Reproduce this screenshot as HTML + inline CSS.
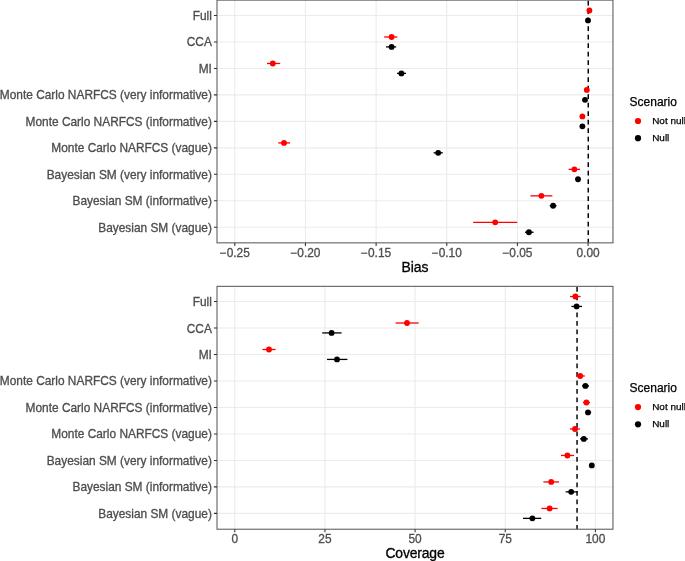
<!DOCTYPE html>
<html><head><meta charset="utf-8"><title>chart</title>
<style>html,body{margin:0;padding:0;background:#fff;}svg{display:block;will-change:transform}text{font-family:"Liberation Sans",sans-serif;}</style></head>
<body>
<svg width="685" height="561" viewBox="0 0 685 561">
<rect width="685" height="561" fill="#ffffff"/>
<path d="M217.0 15.47H612.95M217.0 41.95H612.95M217.0 68.42H612.95M217.0 94.90H612.95M217.0 121.37H612.95M217.0 147.84H612.95M217.0 174.32H612.95M217.0 200.80H612.95M217.0 227.27H612.95M234.79 0.12V242.85M305.45 0.12V242.85M376.11 0.12V242.85M446.77 0.12V242.85M517.43 0.12V242.85M588.09 0.12V242.85" stroke="#ebebeb" stroke-width="1.07" fill="none"/>
<path d="M588.27 0.12V242.85" stroke="#000" stroke-width="1.45" stroke-dasharray="4.8 3.7" stroke-dashoffset="-0.7" fill="none"/>
<circle cx="589.4" cy="10.52" r="2.92" fill="#ff0000"/>
<circle cx="588.0" cy="20.44" r="2.92" fill="#000000"/>
<path d="M384.2 36.99H397.4" stroke="#ff0000" stroke-width="1.3"/>
<circle cx="391.6" cy="36.99" r="2.92" fill="#ff0000"/>
<path d="M386.0 46.91H396.2" stroke="#000000" stroke-width="1.3"/>
<circle cx="391.6" cy="46.91" r="2.92" fill="#000000"/>
<path d="M267.0 63.47H280.2" stroke="#ff0000" stroke-width="1.3"/>
<circle cx="272.8" cy="63.47" r="2.92" fill="#ff0000"/>
<path d="M397.0 73.39H406.0" stroke="#000000" stroke-width="1.3"/>
<circle cx="401.4" cy="73.39" r="2.92" fill="#000000"/>
<circle cx="586.8" cy="89.95" r="2.92" fill="#ff0000"/>
<circle cx="585.0" cy="99.87" r="2.92" fill="#000000"/>
<circle cx="582.4" cy="116.42" r="2.92" fill="#ff0000"/>
<circle cx="582.4" cy="126.34" r="2.92" fill="#000000"/>
<path d="M278.2 142.9H290.0" stroke="#ff0000" stroke-width="1.3"/>
<circle cx="284.0" cy="142.9" r="2.92" fill="#ff0000"/>
<path d="M433.6 152.81H442.8" stroke="#000000" stroke-width="1.3"/>
<circle cx="438.2" cy="152.81" r="2.92" fill="#000000"/>
<path d="M568.6 169.37H580.0" stroke="#ff0000" stroke-width="1.3"/>
<circle cx="574.4" cy="169.37" r="2.92" fill="#ff0000"/>
<circle cx="578.0" cy="179.29" r="2.92" fill="#000000"/>
<path d="M530.4 195.85H552.4" stroke="#ff0000" stroke-width="1.3"/>
<circle cx="541.4" cy="195.85" r="2.92" fill="#ff0000"/>
<path d="M549.7 205.77H556.6" stroke="#000000" stroke-width="1.3"/>
<circle cx="553.1" cy="205.77" r="2.92" fill="#000000"/>
<path d="M473.2 222.32H517.2" stroke="#ff0000" stroke-width="1.3"/>
<circle cx="495.2" cy="222.32" r="2.92" fill="#ff0000"/>
<path d="M525.0 232.24H533.6" stroke="#000000" stroke-width="1.3"/>
<circle cx="528.95" cy="232.24" r="2.92" fill="#000000"/>
<rect x="217.0" y="0.12" width="395.95" height="242.73" fill="none" stroke="#5c5c5c" stroke-width="1.07"/>
<path d="M213.90 15.47H217.0M213.90 41.95H217.0M213.90 68.42H217.0M213.90 94.90H217.0M213.90 121.37H217.0M213.90 147.84H217.0M213.90 174.32H217.0M213.90 200.80H217.0M213.90 227.27H217.0M234.79 242.85V245.95M305.45 242.85V245.95M376.11 242.85V245.95M446.77 242.85V245.95M517.43 242.85V245.95M588.09 242.85V245.95" stroke="#333333" stroke-width="1.07" fill="none"/>
<text x="211.9" y="20.02" font-size="11.9" fill="#4d4d4d" stroke="#4d4d4d" stroke-width="0.3" text-anchor="end">Full</text>
<text x="211.9" y="46.49" font-size="11.9" fill="#4d4d4d" stroke="#4d4d4d" stroke-width="0.3" text-anchor="end">CCA</text>
<text x="211.9" y="72.97" font-size="11.9" fill="#4d4d4d" stroke="#4d4d4d" stroke-width="0.3" text-anchor="end">MI</text>
<text x="211.9" y="99.45" font-size="11.9" fill="#4d4d4d" stroke="#4d4d4d" stroke-width="0.3" text-anchor="end">Monte Carlo NARFCS (very informative)</text>
<text x="211.9" y="125.92" font-size="11.9" fill="#4d4d4d" stroke="#4d4d4d" stroke-width="0.3" text-anchor="end">Monte Carlo NARFCS (informative)</text>
<text x="211.9" y="152.40" font-size="11.9" fill="#4d4d4d" stroke="#4d4d4d" stroke-width="0.3" text-anchor="end">Monte Carlo NARFCS (vague)</text>
<text x="211.9" y="178.87" font-size="11.9" fill="#4d4d4d" stroke="#4d4d4d" stroke-width="0.3" text-anchor="end">Bayesian SM (very informative)</text>
<text x="211.9" y="205.35" font-size="11.9" fill="#4d4d4d" stroke="#4d4d4d" stroke-width="0.3" text-anchor="end">Bayesian SM (informative)</text>
<text x="211.9" y="231.82" font-size="11.9" fill="#4d4d4d" stroke="#4d4d4d" stroke-width="0.3" text-anchor="end">Bayesian SM (vague)</text>
<text x="234.79" y="256.7" font-size="11.9" fill="#4d4d4d" stroke="#4d4d4d" stroke-width="0.3" text-anchor="middle">−0.25</text>
<text x="305.45" y="256.7" font-size="11.9" fill="#4d4d4d" stroke="#4d4d4d" stroke-width="0.3" text-anchor="middle">−0.20</text>
<text x="376.11" y="256.7" font-size="11.9" fill="#4d4d4d" stroke="#4d4d4d" stroke-width="0.3" text-anchor="middle">−0.15</text>
<text x="446.77" y="256.7" font-size="11.9" fill="#4d4d4d" stroke="#4d4d4d" stroke-width="0.3" text-anchor="middle">−0.10</text>
<text x="517.43" y="256.7" font-size="11.9" fill="#4d4d4d" stroke="#4d4d4d" stroke-width="0.3" text-anchor="middle">−0.05</text>
<text x="588.09" y="256.7" font-size="11.9" fill="#4d4d4d" stroke="#4d4d4d" stroke-width="0.3" text-anchor="middle">0.00</text>
<text x="414.98" y="272.0" font-size="13.95" fill="#000" stroke="#000" stroke-width="0.3" text-anchor="middle">Bias</text>
<text x="629.6" y="105.80" font-size="12.0" fill="#000" stroke="#000" stroke-width="0.25">Scenario</text>
<circle cx="638" cy="121.00" r="3.12" fill="#ff0000"/>
<circle cx="638" cy="138.20" r="3.12" fill="#000000"/>
<text x="652.2" y="124.00" font-size="9.95" fill="#000" stroke="#000" stroke-width="0.25">Not null</text>
<text x="652.2" y="141.20" font-size="9.95" fill="#000" stroke="#000" stroke-width="0.25">Null</text>
<path d="M217.0 301.47H612.95M217.0 327.96H612.95M217.0 354.45H612.95M217.0 380.94H612.95M217.0 407.43H612.95M217.0 433.92H612.95M217.0 460.41H612.95M217.0 486.90H612.95M217.0 513.39H612.95M234.79 286.33V529.22M324.94 286.33V529.22M415.1 286.33V529.22M505.25 286.33V529.22M595.4 286.33V529.22" stroke="#ebebeb" stroke-width="1.07" fill="none"/>
<path d="M577.05 286.33V529.22" stroke="#000" stroke-width="1.45" stroke-dasharray="4.8 3.7" stroke-dashoffset="-0.7" fill="none"/>
<path d="M570.0 296.52H580.6" stroke="#ff0000" stroke-width="1.3"/>
<circle cx="575.4" cy="296.52" r="2.92" fill="#ff0000"/>
<path d="M571.4 306.44H582.0" stroke="#000000" stroke-width="1.3"/>
<circle cx="576.6" cy="306.44" r="2.92" fill="#000000"/>
<path d="M395.6 323.01H418.6" stroke="#ff0000" stroke-width="1.3"/>
<circle cx="407.0" cy="323.01" r="2.92" fill="#ff0000"/>
<path d="M322.2 332.93H341.6" stroke="#000000" stroke-width="1.3"/>
<circle cx="331.6" cy="332.93" r="2.92" fill="#000000"/>
<path d="M262.4 349.5H275.6" stroke="#ff0000" stroke-width="1.3"/>
<circle cx="269.0" cy="349.5" r="2.92" fill="#ff0000"/>
<path d="M327.0 359.42H347.4" stroke="#000000" stroke-width="1.3"/>
<circle cx="337.0" cy="359.42" r="2.92" fill="#000000"/>
<path d="M576.2 375.99H584.8" stroke="#ff0000" stroke-width="1.3"/>
<circle cx="580.2" cy="375.99" r="2.92" fill="#ff0000"/>
<path d="M582.0 385.91H589.0" stroke="#000000" stroke-width="1.3"/>
<circle cx="585.4" cy="385.91" r="2.92" fill="#000000"/>
<path d="M583.0 402.48H590.0" stroke="#ff0000" stroke-width="1.3"/>
<circle cx="586.4" cy="402.48" r="2.92" fill="#ff0000"/>
<path d="M585.0 412.4H591.2" stroke="#000000" stroke-width="1.3"/>
<circle cx="588.0" cy="412.4" r="2.92" fill="#000000"/>
<path d="M570.0 428.97H580.0" stroke="#ff0000" stroke-width="1.3"/>
<circle cx="575.0" cy="428.97" r="2.92" fill="#ff0000"/>
<path d="M580.0 438.89H588.0" stroke="#000000" stroke-width="1.3"/>
<circle cx="583.8" cy="438.89" r="2.92" fill="#000000"/>
<path d="M561.0 455.46H574.0" stroke="#ff0000" stroke-width="1.3"/>
<circle cx="567.4" cy="455.46" r="2.92" fill="#ff0000"/>
<circle cx="591.8" cy="465.38" r="2.92" fill="#000000"/>
<path d="M543.4 481.95H559.0" stroke="#ff0000" stroke-width="1.3"/>
<circle cx="551.2" cy="481.95" r="2.92" fill="#ff0000"/>
<path d="M565.6 491.87H577.4" stroke="#000000" stroke-width="1.3"/>
<circle cx="571.2" cy="491.87" r="2.92" fill="#000000"/>
<path d="M541.4 508.44H557.6" stroke="#ff0000" stroke-width="1.3"/>
<circle cx="549.6" cy="508.44" r="2.92" fill="#ff0000"/>
<path d="M523.0 518.36H541.2" stroke="#000000" stroke-width="1.3"/>
<circle cx="532.4" cy="518.36" r="2.92" fill="#000000"/>
<rect x="217.0" y="286.33" width="395.95" height="242.89" fill="none" stroke="#5c5c5c" stroke-width="1.07"/>
<path d="M213.90 301.47H217.0M213.90 327.96H217.0M213.90 354.45H217.0M213.90 380.94H217.0M213.90 407.43H217.0M213.90 433.92H217.0M213.90 460.41H217.0M213.90 486.90H217.0M213.90 513.39H217.0M234.79 529.22V532.32M324.94 529.22V532.32M415.1 529.22V532.32M505.25 529.22V532.32M595.4 529.22V532.32" stroke="#333333" stroke-width="1.07" fill="none"/>
<text x="211.9" y="306.02" font-size="11.9" fill="#4d4d4d" stroke="#4d4d4d" stroke-width="0.3" text-anchor="end">Full</text>
<text x="211.9" y="332.51" font-size="11.9" fill="#4d4d4d" stroke="#4d4d4d" stroke-width="0.3" text-anchor="end">CCA</text>
<text x="211.9" y="359.00" font-size="11.9" fill="#4d4d4d" stroke="#4d4d4d" stroke-width="0.3" text-anchor="end">MI</text>
<text x="211.9" y="385.49" font-size="11.9" fill="#4d4d4d" stroke="#4d4d4d" stroke-width="0.3" text-anchor="end">Monte Carlo NARFCS (very informative)</text>
<text x="211.9" y="411.98" font-size="11.9" fill="#4d4d4d" stroke="#4d4d4d" stroke-width="0.3" text-anchor="end">Monte Carlo NARFCS (informative)</text>
<text x="211.9" y="438.47" font-size="11.9" fill="#4d4d4d" stroke="#4d4d4d" stroke-width="0.3" text-anchor="end">Monte Carlo NARFCS (vague)</text>
<text x="211.9" y="464.96" font-size="11.9" fill="#4d4d4d" stroke="#4d4d4d" stroke-width="0.3" text-anchor="end">Bayesian SM (very informative)</text>
<text x="211.9" y="491.45" font-size="11.9" fill="#4d4d4d" stroke="#4d4d4d" stroke-width="0.3" text-anchor="end">Bayesian SM (informative)</text>
<text x="211.9" y="517.94" font-size="11.9" fill="#4d4d4d" stroke="#4d4d4d" stroke-width="0.3" text-anchor="end">Bayesian SM (vague)</text>
<text x="234.79" y="542.7" font-size="11.9" fill="#4d4d4d" stroke="#4d4d4d" stroke-width="0.3" text-anchor="middle">0</text>
<text x="324.94" y="542.7" font-size="11.9" fill="#4d4d4d" stroke="#4d4d4d" stroke-width="0.3" text-anchor="middle">25</text>
<text x="415.1" y="542.7" font-size="11.9" fill="#4d4d4d" stroke="#4d4d4d" stroke-width="0.3" text-anchor="middle">50</text>
<text x="505.25" y="542.7" font-size="11.9" fill="#4d4d4d" stroke="#4d4d4d" stroke-width="0.3" text-anchor="middle">75</text>
<text x="595.4" y="542.7" font-size="11.9" fill="#4d4d4d" stroke="#4d4d4d" stroke-width="0.3" text-anchor="middle">100</text>
<text x="414.98" y="557.7" font-size="13.95" fill="#000" stroke="#000" stroke-width="0.3" text-anchor="middle" letter-spacing="-0.16">Coverage</text>
<text x="629.6" y="391.90" font-size="12.0" fill="#000" stroke="#000" stroke-width="0.25">Scenario</text>
<circle cx="638" cy="407.10" r="3.12" fill="#ff0000"/>
<circle cx="638" cy="424.30" r="3.12" fill="#000000"/>
<text x="652.2" y="410.10" font-size="9.95" fill="#000" stroke="#000" stroke-width="0.25">Not null</text>
<text x="652.2" y="427.30" font-size="9.95" fill="#000" stroke="#000" stroke-width="0.25">Null</text>
</svg></body></html>
